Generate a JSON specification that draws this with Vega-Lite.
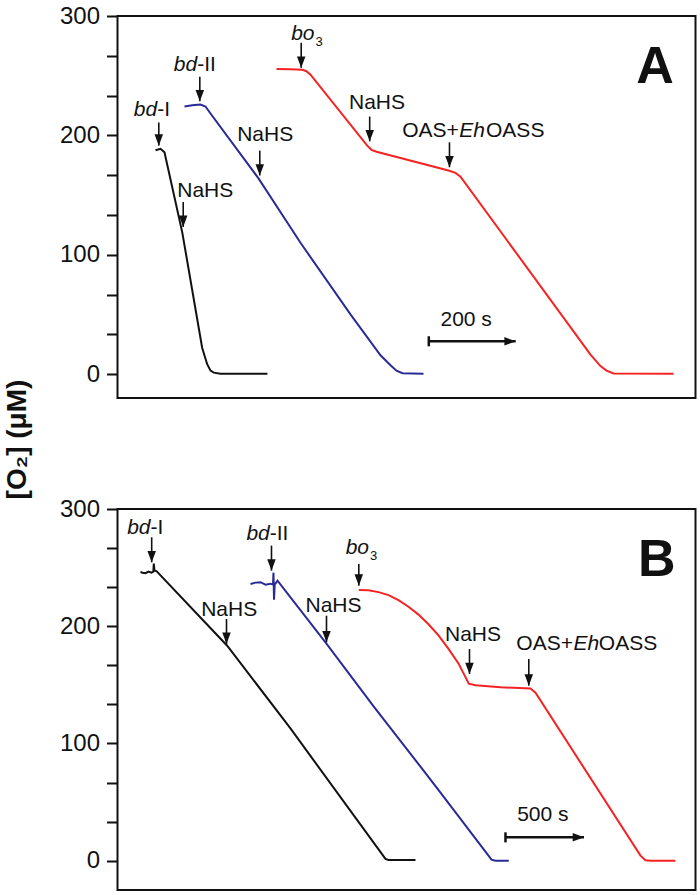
{
  "$schema": "https://vega.github.io/schema/vega-lite/v6.json",
  "autosize": {"type": "pad"},
  "padding": {"left": 2.5, "top": 3, "right": 0, "bottom": 0},
  "background": "white",
  "config": {
    "view": {"stroke": "#111", "strokeWidth": 2},
    "font": "Liberation Sans",
    "text": {"font": "Liberation Sans", "color": "#111", "baseline": "alphabetic"}
  },
  "spacing": 111,
  "bounds": "flush",
  "datasets": {
    "curves": [
      {"p": "A", "s": "bd-I", "t": 87.4, "v": 187.5},
      {"p": "A", "s": "bd-I", "t": 98.9, "v": 188.75},
      {"p": "A", "s": "bd-I", "t": 108.1, "v": 185.8},
      {"p": "A", "s": "bd-I", "t": 148.9, "v": 119},
      {"p": "A", "s": "bd-I", "t": 194.9, "v": 21.9},
      {"p": "A", "s": "bd-I", "t": 206.4, "v": 8.3},
      {"p": "A", "s": "bd-I", "t": 214.0, "v": 2.9},
      {"p": "A", "s": "bd-I", "t": 221.6, "v": 1.25},
      {"p": "A", "s": "bd-I", "t": 237, "v": 0.4},
      {"p": "A", "s": "bd-I", "t": 345, "v": 0.3},
      {"p": "A", "s": "bd-II", "t": 154.2, "v": 224.2},
      {"p": "A", "s": "bd-II", "t": 172, "v": 225.3},
      {"p": "A", "s": "bd-II", "t": 191, "v": 225.8},
      {"p": "A", "s": "bd-II", "t": 202.5, "v": 224.2},
      {"p": "A", "s": "bd-II", "t": 214, "v": 218.3},
      {"p": "A", "s": "bd-II", "t": 324.4, "v": 164},
      {"p": "A", "s": "bd-II", "t": 421.1, "v": 110},
      {"p": "A", "s": "bd-II", "t": 536.1, "v": 50},
      {"p": "A", "s": "bd-II", "t": 605.2, "v": 15.8},
      {"p": "A", "s": "bd-II", "t": 628.2, "v": 7.5},
      {"p": "A", "s": "bd-II", "t": 642, "v": 2.9},
      {"p": "A", "s": "bd-II", "t": 655.8, "v": 0.8},
      {"p": "A", "s": "bd-II", "t": 704.1, "v": 0.4},
      {"p": "A", "s": "bo3", "t": 365.9, "v": 255.6},
      {"p": "A", "s": "bo3", "t": 398.1, "v": 255.4},
      {"p": "A", "s": "bo3", "t": 425, "v": 255},
      {"p": "A", "s": "bo3", "t": 434.9, "v": 253.75},
      {"p": "A", "s": "bo3", "t": 444.1, "v": 250.8},
      {"p": "A", "s": "bo3", "t": 574.6, "v": 191.4},
      {"p": "A", "s": "bo3", "t": 584.4, "v": 187.9},
      {"p": "A", "s": "bo3", "t": 596, "v": 186.25},
      {"p": "A", "s": "bo3", "t": 761.6, "v": 170.6},
      {"p": "A", "s": "bo3", "t": 777.7, "v": 168.6},
      {"p": "A", "s": "bo3", "t": 789.2, "v": 165.4},
      {"p": "A", "s": "bo3", "t": 1088.4, "v": 16.4},
      {"p": "A", "s": "bo3", "t": 1111.4, "v": 6.7},
      {"p": "A", "s": "bo3", "t": 1125.2, "v": 2.9},
      {"p": "A", "s": "bo3", "t": 1141.3, "v": 0.6},
      {"p": "A", "s": "bo3", "t": 1279.4, "v": 0.4},
      {"p": "B", "s": "bd-I", "t": 146.4, "v": 246.2},
      {"p": "B", "s": "bd-I", "t": 160, "v": 245.6},
      {"p": "B", "s": "bd-I", "t": 178.3, "v": 245.3},
      {"p": "B", "s": "bd-I", "t": 197.4, "v": 246.6},
      {"p": "B", "s": "bd-I", "t": 216.5, "v": 245.7},
      {"p": "B", "s": "bd-I", "t": 228, "v": 246.5},
      {"p": "B", "s": "bd-I", "t": 231.1, "v": 253.4},
      {"p": "B", "s": "bd-I", "t": 235.6, "v": 247.4},
      {"p": "B", "s": "bd-I", "t": 248.3, "v": 247},
      {"p": "B", "s": "bd-I", "t": 698.4, "v": 183.4},
      {"p": "B", "s": "bd-I", "t": 1100, "v": 113},
      {"p": "B", "s": "bd-I", "t": 1706.2, "v": 1.5},
      {"p": "B", "s": "bd-I", "t": 1725.3, "v": 0.6},
      {"p": "B", "s": "bd-I", "t": 1897.2, "v": 0.6},
      {"p": "B", "s": "bd-II", "t": 846.8, "v": 236.1},
      {"p": "B", "s": "bd-II", "t": 878.6, "v": 237.2},
      {"p": "B", "s": "bd-II", "t": 910.4, "v": 237.6},
      {"p": "B", "s": "bd-II", "t": 942.3, "v": 235.5},
      {"p": "B", "s": "bd-II", "t": 974.1, "v": 236.3},
      {"p": "B", "s": "bd-II", "t": 990, "v": 235.5},
      {"p": "B", "s": "bd-II", "t": 993.2, "v": 245.7},
      {"p": "B", "s": "bd-II", "t": 996.4, "v": 222.7},
      {"p": "B", "s": "bd-II", "t": 1000.8, "v": 235.5},
      {"p": "B", "s": "bd-II", "t": 1018.7, "v": 238.9},
      {"p": "B", "s": "bd-II", "t": 1324.2, "v": 186.3},
      {"p": "B", "s": "bd-II", "t": 1631.8, "v": 131.4},
      {"p": "B", "s": "bd-II", "t": 1929.1, "v": 80.2},
      {"p": "B", "s": "bd-II", "t": 2056.4, "v": 58},
      {"p": "B", "s": "bd-II", "t": 2362, "v": 4.3},
      {"p": "B", "s": "bd-II", "t": 2381, "v": 0.85},
      {"p": "B", "s": "bd-II", "t": 2406.6, "v": 0},
      {"p": "B", "s": "bd-II", "t": 2491.3, "v": 0},
      {"p": "B", "s": "bo3", "t": 1536.3, "v": 231},
      {"p": "B", "s": "bo3", "t": 1598.0, "v": 230.6},
      {"p": "B", "s": "bo3", "t": 1661.7, "v": 229.1},
      {"p": "B", "s": "bo3", "t": 1725.3, "v": 226.5},
      {"p": "B", "s": "bo3", "t": 1789.0, "v": 222.2},
      {"p": "B", "s": "bo3", "t": 1852.7, "v": 216.6},
      {"p": "B", "s": "bo3", "t": 1916.4, "v": 209.9},
      {"p": "B", "s": "bo3", "t": 1980.0, "v": 201.7},
      {"p": "B", "s": "bo3", "t": 2043.7, "v": 192.2},
      {"p": "B", "s": "bo3", "t": 2107.4, "v": 180.7},
      {"p": "B", "s": "bo3", "t": 2171.0, "v": 168.3},
      {"p": "B", "s": "bo3", "t": 2236.6, "v": 151},
      {"p": "B", "s": "bo3", "t": 2279.2, "v": 149.7},
      {"p": "B", "s": "bo3", "t": 2438.4, "v": 148},
      {"p": "B", "s": "bo3", "t": 2629.4, "v": 146.8},
      {"p": "B", "s": "bo3", "t": 2661.3, "v": 143.3},
      {"p": "B", "s": "bo3", "t": 3329.7, "v": 4.3},
      {"p": "B", "s": "bo3", "t": 3361.5, "v": 0.4},
      {"p": "B", "s": "bo3", "t": 3393.4, "v": 0},
      {"p": "B", "s": "bo3", "t": 3552.6, "v": 0}
    ],
    "arrows": [
      {"p": "A", "x": 95.0, "y": 210.8, "y2": 191.4},
      {"p": "A", "x": 189.4, "y": 249.2, "y2": 228.6},
      {"p": "A", "x": 151.2, "y": 144.2, "y2": 123.3},
      {"p": "A", "x": 327.4, "y": 187.25, "y2": 166.4},
      {"p": "A", "x": 422.7, "y": 277.5, "y2": 256.7},
      {"p": "A", "x": 580.3, "y": 215.8, "y2": 195},
      {"p": "A", "x": 763.9, "y": 194.2, "y2": 173.3},
      {"p": "B", "x": 217.7, "y": 275.9, "y2": 254.5},
      {"p": "B", "x": 980.4, "y": 268.8, "y2": 247.4},
      {"p": "B", "x": 694, "y": 206.2, "y2": 184.9},
      {"p": "B", "x": 1330.6, "y": 209, "y2": 186.3},
      {"p": "B", "x": 1536.3, "y": 253.2, "y2": 234.6},
      {"p": "B", "x": 2241, "y": 180.6, "y2": 159.3},
      {"p": "B", "x": 2618.6, "y": 172.1, "y2": 149.3}
    ],
    "scalebars": [
      {"p": "A", "x": 716.3, "x2": 916.3, "y": 27.5, "ylo": 23.3, "yhi": 31.7},
      {"p": "B", "x": 2470.2, "x2": 2970.2, "y": 19.9, "ylo": 15.6, "yhi": 24.2}
    ],
    "italicEnd": [
      {"p": "A", "text": "bd", "x": 91.3, "y": 216.4},
      {"p": "A", "text": "bd", "x": 183.4, "y": 253.9},
      {"p": "A", "text": "bo", "x": 453.3, "y": 280.25},
      {"p": "B", "text": "bd", "x": 210.1, "y": 278.8},
      {"p": "B", "text": "bd", "x": 969.6, "y": 273.6},
      {"p": "B", "text": "bo", "x": 1601.2, "y": 261.7}
    ],
    "plainStart": [
      {"p": "A", "text": "-I", "x": 91.3, "y": 216.4},
      {"p": "A", "text": "-II", "x": 183.4, "y": 253.9},
      {"p": "A", "text": "NaHS", "x": 137.4, "y": 148.3},
      {"p": "A", "text": "NaHS", "x": 275.4, "y": 195.6},
      {"p": "A", "text": "NaHS", "x": 532.7, "y": 221.7},
      {"p": "A", "text": "OASS", "x": 848, "y": 198.3},
      {"p": "A", "text": "200 s", "x": 743.2, "y": 40},
      {"p": "B", "text": "-I", "x": 210.1, "y": 278.8},
      {"p": "B", "text": "-II", "x": 969.6, "y": 273.6},
      {"p": "B", "text": "NaHS", "x": 532.9, "y": 209},
      {"p": "B", "text": "NaHS", "x": 1196.9, "y": 211.9},
      {"p": "B", "text": "NaHS", "x": 2085, "y": 187.7},
      {"p": "B", "text": "OASS", "x": 3064.3, "y": 180},
      {"p": "B", "text": "500 s", "x": 2544.7, "y": 34.1}
    ],
    "plainEnd": [
      {"p": "A", "text": "OAS+", "x": 785.3, "y": 198.3},
      {"p": "B", "text": "OAS+", "x": 2900, "y": 180}
    ],
    "italicStart": [
      {"p": "A", "text": "Eh", "x": 786.4, "y": 198.3},
      {"p": "B", "text": "Eh", "x": 2903.2, "y": 180}
    ],
    "subscript": [
      {"p": "A", "text": "3", "x": 455.6, "y": 274.75},
      {"p": "B", "text": "3", "x": 1607.6, "y": 256.6}
    ],
    "panels": [
      {"p": "A", "text": "A", "x": 1280, "y": 244.2},
      {"p": "B", "text": "B", "x": 3552.6, "y": 243.2}
    ]
  },
  "vconcat": [
    {
      "width": 578,
      "height": 382,
      "layer": [
        {
          "data": {"name": "curves"},
          "transform": [{"filter": "datum.p === 'A'"}],
          "mark": {"type": "line", "strokeWidth": 2},
          "encoding": {
            "x": {"field": "t", "type": "quantitative", "scale": {"domain": [0, 1330], "nice": false, "zero": false}, "axis": null},
            "y": {"field": "v", "type": "quantitative", "scale": {"domain": [-20, 300], "nice": false, "zero": false},
              "axis": {"values": [0, 33.333, 66.667, 100, 133.333, 166.667, 200, 233.333, 266.667, 300],
                "labelExpr": "datum.value % 100 === 0 ? datum.label : ''",
                "domain": false, "grid": false, "tickSize": 11, "tickWidth": 2, "tickColor": "#111",
                "labelFontSize": 24, "labelColor": "#111", "labelPadding": 7, "labelFont": "Liberation Sans", "labelOverlap": false,
                "title": "[O₂]  (μM)", "titleFontSize": 28, "titleFontWeight": "bold", "titleColor": "#111", "titleFont": "Liberation Sans",
                "titleX": -92, "titleY": 423, "titleAngle": 270, "titleBaseline": "alphabetic", "titleAlign": "center"}},
            "color": {"field": "s", "type": "nominal", "scale": {"domain": ["bd-I", "bd-II", "bo3"], "range": ["#111111", "#2a2a96", "#f52222"]}, "legend": null}
          }
        },
        {
          "data": {"name": "arrows"},
          "transform": [{"filter": "datum.p === 'A'"}],
          "mark": {"type": "rule", "strokeWidth": 1.6, "color": "#111"},
          "encoding": {"x": {"field": "x", "type": "quantitative"}, "y": {"field": "y", "type": "quantitative"}, "y2": {"field": "y2"}}
        },
        {
          "data": {"name": "arrows"},
          "transform": [{"filter": "datum.p === 'A'"}],
          "mark": {"type": "point", "shape": "M-0.75,-2L0.75,-2L0,0Z", "filled": true, "size": 128, "color": "#111", "opacity": 1},
          "encoding": {"x": {"field": "x", "type": "quantitative"}, "y": {"field": "y2", "type": "quantitative"}}
        },
        {
          "data": {"name": "scalebars"},
          "transform": [{"filter": "datum.p === 'A'"}],
          "mark": {"type": "rule", "strokeWidth": 2.5, "color": "#111"},
          "encoding": {"x": {"field": "x", "type": "quantitative"}, "x2": {"field": "x2"}, "y": {"field": "y", "type": "quantitative"}}
        },
        {
          "data": {"name": "scalebars"},
          "transform": [{"filter": "datum.p === 'A'"}],
          "mark": {"type": "rule", "strokeWidth": 2.5, "color": "#111"},
          "encoding": {"x": {"field": "x", "type": "quantitative"}, "y": {"field": "ylo", "type": "quantitative"}, "y2": {"field": "yhi"}}
        },
        {
          "data": {"name": "scalebars"},
          "transform": [{"filter": "datum.p === 'A'"}],
          "mark": {"type": "point", "shape": "M-2,-0.75L-2,0.75L0,0Z", "filled": true, "size": 128, "color": "#111", "opacity": 1},
          "encoding": {"x": {"field": "x2", "type": "quantitative"}, "y": {"field": "y", "type": "quantitative"}}
        },
        {
          "data": {"name": "italicEnd"},
          "transform": [{"filter": "datum.p === 'A'"}],
          "mark": {"type": "text", "fontSize": 21, "fontStyle": "italic", "align": "right", "baseline": "alphabetic"},
          "encoding": {"x": {"field": "x", "type": "quantitative"}, "y": {"field": "y", "type": "quantitative"}, "text": {"field": "text"}}
        },
        {
          "data": {"name": "plainStart"},
          "transform": [{"filter": "datum.p === 'A'"}],
          "mark": {"type": "text", "fontSize": 21, "align": "left", "baseline": "alphabetic"},
          "encoding": {"x": {"field": "x", "type": "quantitative"}, "y": {"field": "y", "type": "quantitative"}, "text": {"field": "text"}}
        },
        {
          "data": {"name": "plainEnd"},
          "transform": [{"filter": "datum.p === 'A'"}],
          "mark": {"type": "text", "fontSize": 21, "align": "right", "baseline": "alphabetic"},
          "encoding": {"x": {"field": "x", "type": "quantitative"}, "y": {"field": "y", "type": "quantitative"}, "text": {"field": "text"}}
        },
        {
          "data": {"name": "italicStart"},
          "transform": [{"filter": "datum.p === 'A'"}],
          "mark": {"type": "text", "fontSize": 21, "fontStyle": "italic", "align": "left", "baseline": "alphabetic"},
          "encoding": {"x": {"field": "x", "type": "quantitative"}, "y": {"field": "y", "type": "quantitative"}, "text": {"field": "text"}}
        },
        {
          "data": {"name": "subscript"},
          "transform": [{"filter": "datum.p === 'A'"}],
          "mark": {"type": "text", "fontSize": 13, "align": "left", "baseline": "alphabetic"},
          "encoding": {"x": {"field": "x", "type": "quantitative"}, "y": {"field": "y", "type": "quantitative"}, "text": {"field": "text"}}
        },
        {
          "data": {"name": "panels"},
          "transform": [{"filter": "datum.p === 'A'"}],
          "mark": {"type": "text", "fontSize": 52, "fontWeight": "bold", "align": "right", "baseline": "alphabetic"},
          "encoding": {"x": {"field": "x", "type": "quantitative"}, "y": {"field": "y", "type": "quantitative"}, "text": {"field": "text"}}
        }
      ]
    },
    {
      "width": 578,
      "height": 381,
      "layer": [
        {
          "data": {"name": "curves"},
          "transform": [{"filter": "datum.p === 'B'"}],
          "mark": {"type": "line", "strokeWidth": 2},
          "encoding": {
            "x": {"field": "t", "type": "quantitative", "scale": {"domain": [0, 3680], "nice": false, "zero": false}, "axis": null},
            "y": {"field": "v", "type": "quantitative", "scale": {"domain": [-25, 300], "nice": false, "zero": false},
              "axis": {"values": [0, 33.333, 66.667, 100, 133.333, 166.667, 200, 233.333, 266.667, 300],
                "labelExpr": "datum.value % 100 === 0 ? datum.label : ''",
                "domain": false, "grid": false, "tickSize": 11, "tickWidth": 2, "tickColor": "#111",
                "labelFontSize": 24, "labelColor": "#111", "labelPadding": 7, "labelFont": "Liberation Sans", "labelOverlap": false,
                "title": null}},
            "color": {"field": "s", "type": "nominal", "scale": {"domain": ["bd-I", "bd-II", "bo3"], "range": ["#111111", "#2a2a96", "#f52222"]}, "legend": null}
          }
        },
        {
          "data": {"name": "arrows"},
          "transform": [{"filter": "datum.p === 'B'"}],
          "mark": {"type": "rule", "strokeWidth": 1.6, "color": "#111"},
          "encoding": {"x": {"field": "x", "type": "quantitative"}, "y": {"field": "y", "type": "quantitative"}, "y2": {"field": "y2"}}
        },
        {
          "data": {"name": "arrows"},
          "transform": [{"filter": "datum.p === 'B'"}],
          "mark": {"type": "point", "shape": "M-0.75,-2L0.75,-2L0,0Z", "filled": true, "size": 128, "color": "#111", "opacity": 1},
          "encoding": {"x": {"field": "x", "type": "quantitative"}, "y": {"field": "y2", "type": "quantitative"}}
        },
        {
          "data": {"name": "scalebars"},
          "transform": [{"filter": "datum.p === 'B'"}],
          "mark": {"type": "rule", "strokeWidth": 2.5, "color": "#111"},
          "encoding": {"x": {"field": "x", "type": "quantitative"}, "x2": {"field": "x2"}, "y": {"field": "y", "type": "quantitative"}}
        },
        {
          "data": {"name": "scalebars"},
          "transform": [{"filter": "datum.p === 'B'"}],
          "mark": {"type": "rule", "strokeWidth": 2.5, "color": "#111"},
          "encoding": {"x": {"field": "x", "type": "quantitative"}, "y": {"field": "ylo", "type": "quantitative"}, "y2": {"field": "yhi"}}
        },
        {
          "data": {"name": "scalebars"},
          "transform": [{"filter": "datum.p === 'B'"}],
          "mark": {"type": "point", "shape": "M-2,-0.75L-2,0.75L0,0Z", "filled": true, "size": 128, "color": "#111", "opacity": 1},
          "encoding": {"x": {"field": "x2", "type": "quantitative"}, "y": {"field": "y", "type": "quantitative"}}
        },
        {
          "data": {"name": "italicEnd"},
          "transform": [{"filter": "datum.p === 'B'"}],
          "mark": {"type": "text", "fontSize": 21, "fontStyle": "italic", "align": "right", "baseline": "alphabetic"},
          "encoding": {"x": {"field": "x", "type": "quantitative"}, "y": {"field": "y", "type": "quantitative"}, "text": {"field": "text"}}
        },
        {
          "data": {"name": "plainStart"},
          "transform": [{"filter": "datum.p === 'B'"}],
          "mark": {"type": "text", "fontSize": 21, "align": "left", "baseline": "alphabetic"},
          "encoding": {"x": {"field": "x", "type": "quantitative"}, "y": {"field": "y", "type": "quantitative"}, "text": {"field": "text"}}
        },
        {
          "data": {"name": "plainEnd"},
          "transform": [{"filter": "datum.p === 'B'"}],
          "mark": {"type": "text", "fontSize": 21, "align": "right", "baseline": "alphabetic"},
          "encoding": {"x": {"field": "x", "type": "quantitative"}, "y": {"field": "y", "type": "quantitative"}, "text": {"field": "text"}}
        },
        {
          "data": {"name": "italicStart"},
          "transform": [{"filter": "datum.p === 'B'"}],
          "mark": {"type": "text", "fontSize": 21, "fontStyle": "italic", "align": "left", "baseline": "alphabetic"},
          "encoding": {"x": {"field": "x", "type": "quantitative"}, "y": {"field": "y", "type": "quantitative"}, "text": {"field": "text"}}
        },
        {
          "data": {"name": "subscript"},
          "transform": [{"filter": "datum.p === 'B'"}],
          "mark": {"type": "text", "fontSize": 13, "align": "left", "baseline": "alphabetic"},
          "encoding": {"x": {"field": "x", "type": "quantitative"}, "y": {"field": "y", "type": "quantitative"}, "text": {"field": "text"}}
        },
        {
          "data": {"name": "panels"},
          "transform": [{"filter": "datum.p === 'B'"}],
          "mark": {"type": "text", "fontSize": 52, "fontWeight": "bold", "align": "right", "baseline": "alphabetic"},
          "encoding": {"x": {"field": "x", "type": "quantitative"}, "y": {"field": "y", "type": "quantitative"}, "text": {"field": "text"}}
        }
      ]
    }
  ]
}
